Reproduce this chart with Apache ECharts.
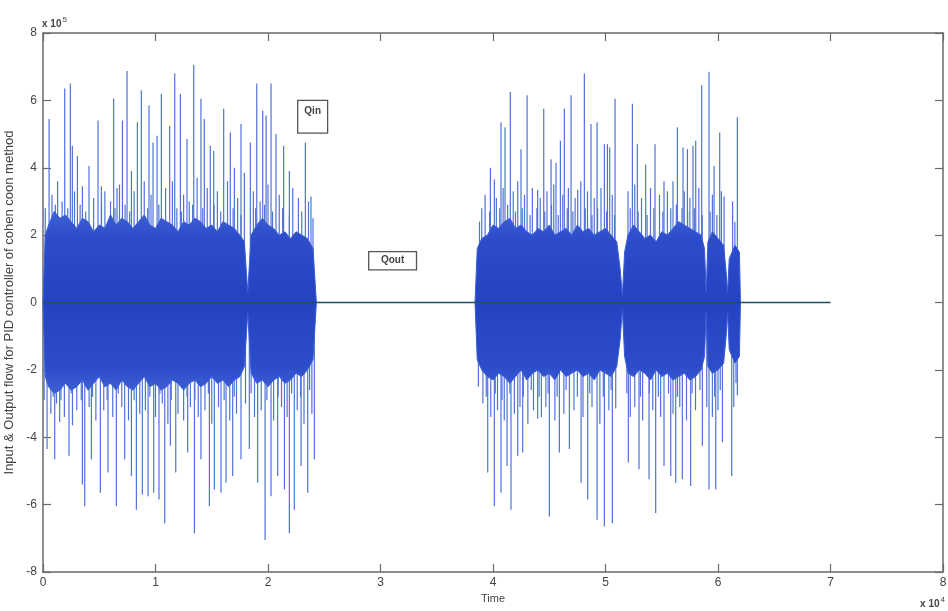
<!DOCTYPE html>
<html>
<head>
<meta charset="utf-8">
<script src="https://cdn.jsdelivr.net/npm/echarts@6/dist/echarts.min.js"></script>
<style>html,body{margin:0;padding:0;background:#fff}#c{width:948px;height:611px}</style>
</head>
<body>
<div id="c"></div>
<script>
// x in units of 1e4 (Time), y in units of 1e5 (flow)
const xTicks = [0,1,2,3,4,5,6,7,8];
const yTicks = [-8,-6,-4,-2,0,2,4,6,8];

// Tall Qin excursions, burst 1 [time, flow]
const burst1Peaks = [
 [0.054,5.45],[0.193,6.35],[0.243,6.5],[0.261,4.65],[0.306,4.35],[0.350,3.45],[0.409,4.05],[0.489,5.4],[0.519,3.45],
 [0.628,6.05],[0.658,3.4],[0.706,5.4],[0.747,6.87],[0.786,3.9],[0.839,5.35],[0.874,6.3],[0.942,5.85],[0.978,4.75],
 [1.014,4.95],[1.052,6.2],[1.126,5.25],[1.171,6.8],[1.221,6.2],[1.280,4.85],[1.340,7.05],[1.404,6.05],[1.434,5.45],
 [1.487,4.65],[1.517,4.5],[1.606,5.75],[1.665,5.05],[1.701,4.0],[1.760,5.3],[1.790,3.85],[1.843,4.75],[1.900,6.5],
 [1.953,5.7],[1.983,5.55],[2.027,6.5],[2.071,5.0],[2.139,4.65],[2.190,3.9],[2.332,4.75],[2.382,3.15],
 [0.036,-4.35],[0.104,-4.65],[0.148,-3.55],[0.231,-4.55],[0.262,-3.65],[0.350,-5.4],[0.371,-6.05],[0.430,-4.65],
 [0.510,-5.65],[0.578,-5.05],[0.652,-6.05],[0.726,-4.65],[0.786,-5.15],[0.830,-6.15],[0.883,-5.7],[0.934,-5.75],
 [0.984,-5.65],[1.031,-5.85],[1.082,-6.55],[1.132,-4.25],[1.180,-5.05],[1.286,-4.45],[1.346,-6.85],[1.404,-4.65],
 [1.479,-6.05],[1.523,-5.55],[1.582,-5.65],[1.627,-5.35],[1.686,-5.15],[1.760,-4.65],[1.834,-4.35],[1.908,-5.35],
 [1.974,-7.05],[2.027,-5.75],[2.086,-5.15],[2.146,-5.55],[2.190,-6.85],[2.234,-6.15],[2.294,-4.85],[2.353,-5.65],[2.412,-4.65]
];
// Tall Qin excursions, burst 2
const burst2Peaks = [
 [3.977,4.0],[4.012,3.65],[4.071,5.35],[4.107,5.2],[4.154,6.25],[4.249,4.55],[4.303,6.15],[4.397,3.35],[4.451,5.75],
 [4.516,4.25],[4.560,4.15],[4.599,4.8],[4.634,5.75],[4.694,6.15],[4.753,3.35],[4.812,6.8],[4.871,5.3],[4.925,5.35],
 [4.990,4.7],[5.017,4.7],[5.037,4.6],[5.085,6.05],[5.239,5.9],[5.283,4.7],[5.357,4.1],[5.440,4.7],[5.520,3.6],
 [5.639,5.2],[5.689,4.6],[5.728,4.55],[5.778,4.65],[5.802,4.8],[5.855,6.45],[5.920,6.85],[5.965,4.05],[6.015,5.05],
 [6.054,3.15],[6.172,5.5],
 [3.953,-5.05],[4.012,-6.05],[4.071,-5.65],[4.125,-4.85],[4.160,-6.15],[4.220,-4.55],[4.264,-4.45],[4.397,-3.45],
 [4.501,-6.35],[4.590,-4.45],[4.679,-4.35],[4.783,-5.35],[4.842,-5.85],[4.925,-6.45],[4.990,-6.65],[5.061,-6.55],
 [5.091,-3.15],[5.203,-4.75],[5.298,-4.95],[5.387,-5.25],[5.446,-6.25],[5.520,-4.85],[5.580,-5.15],[5.624,-5.35],
 [5.683,-5.25],[5.757,-5.45],[5.861,-4.25],[5.920,-5.55],[5.980,-5.55],[6.039,-4.15],[6.122,-5.15],[6.172,-2.75]
];
// Medium excursions just outside the dense core
const burst1Mid = [
 [0.08,3.2],[0.13,3.6],[0.17,3.0],[0.28,3.3],[0.45,3.1],[0.55,3.3],[0.60,3.0],[0.68,3.5],[0.81,3.3],[0.90,3.6],
 [0.96,3.2],[1.09,3.4],[1.15,3.6],[1.25,3.2],[1.30,3.0],[1.37,3.7],[1.46,3.4],[1.55,3.3],[1.64,3.6],[1.73,3.1],
 [1.87,3.3],[1.93,3.0],[2.00,3.5],[2.10,3.2],[2.22,3.4],[2.27,3.1],[2.36,3.0],
 [0.02,2.8],[0.11,2.9],[0.22,2.8],[0.33,2.9],[0.38,2.7],[0.52,2.9],[0.64,2.8],[0.73,2.9],[0.77,2.7],[0.93,2.8],
 [1.03,2.9],[1.19,2.8],[1.23,2.7],[1.33,2.9],[1.42,2.8],[1.52,2.9],[1.58,2.7],[1.69,2.8],[1.76,2.6],[1.89,2.8],
 [1.97,2.9],[2.04,2.7],[2.13,2.8],[2.19,2.6],[2.30,2.7],[2.40,2.5],
 [0.07,-3.3],[0.12,-3.0],[0.19,-3.4],[0.30,-3.2],[0.41,-3.1],[0.47,-3.5],[0.54,-3.2],[0.62,-3.4],[0.70,-3.1],
 [0.76,-3.5],[0.86,-3.3],[0.91,-3.2],[1.00,-3.4],[1.06,-3.0],[1.11,-3.6],[1.20,-3.3],[1.25,-3.5],[1.31,-3.1],
 [1.38,-3.4],[1.44,-3.2],[1.50,-3.6],[1.56,-3.1],[1.66,-3.5],[1.72,-3.3],[1.80,-3.0],[1.88,-3.4],[1.94,-3.2],
 [2.05,-3.5],[2.12,-3.1],[2.17,-3.4],[2.26,-3.2],[2.32,-3.6],[2.39,-3.3],
 [0.01,-2.9],[0.09,-2.8],[0.16,-2.9],[0.25,-2.7],[0.34,-2.9],[0.44,-2.8],[0.57,-2.9],[0.67,-2.7],[0.81,-2.9],
 [0.95,-2.8],[1.04,-2.7],[1.14,-2.9],[1.28,-2.8],[1.35,-2.9],[1.47,-2.7],[1.61,-2.9],[1.70,-2.8],[1.85,-2.7],
 [1.99,-2.9],[2.09,-2.8],[2.21,-2.7],[2.29,-2.8],[2.37,-2.6]
];
const burst2Mid = [
 [3.90,2.8],[3.93,3.2],[4.03,3.1],[4.09,3.4],[4.18,3.3],[4.22,3.6],[4.28,3.2],[4.35,3.4],[4.42,3.1],[4.48,3.3],
 [4.54,3.5],[4.62,3.2],[4.67,3.4],[4.73,3.1],[4.78,3.6],[4.84,3.3],[4.90,3.1],[4.96,3.4],[5.06,3.2],[5.20,3.3],
 [5.26,3.5],[5.32,3.1],[5.40,3.4],[5.48,3.2],[5.55,3.3],[5.60,3.6],[5.70,3.3],[5.75,3.1],[5.83,3.4],[5.95,3.2],
 [6.03,3.3],[6.13,3.0],
 [3.88,2.4],[3.97,2.7],[4.06,2.8],[4.13,2.9],[4.20,2.7],[4.26,2.8],[4.33,2.6],[4.39,2.8],[4.46,2.7],[4.52,2.9],
 [4.58,2.6],[4.66,2.8],[4.71,2.7],[4.82,2.8],[4.88,2.6],[4.93,2.8],[5.01,2.7],[5.08,2.6],[5.22,2.8],[5.29,2.7],
 [5.37,2.6],[5.43,2.8],[5.51,2.7],[5.58,2.8],[5.63,2.9],[5.68,2.8],[5.73,2.7],[5.79,2.8],[5.86,2.6],[5.93,2.7],
 [5.99,2.6],[6.15,2.4],
 [3.91,-3.0],[3.98,-3.4],[4.04,-3.2],[4.10,-3.5],[4.19,-3.3],[4.24,-3.1],[4.31,-3.6],[4.36,-3.2],[4.43,-3.4],
 [4.47,-3.1],[4.55,-3.5],[4.63,-3.3],[4.72,-3.2],[4.80,-3.4],[4.88,-3.1],[4.95,-3.6],[5.03,-3.2],[5.22,-3.4],
 [5.26,-3.1],[5.33,-3.5],[5.42,-3.2],[5.49,-3.4],[5.60,-3.3],[5.66,-3.1],[5.72,-3.5],[5.80,-3.2],[5.90,-3.1],
 [5.95,-3.4],[6.00,-3.2],[6.14,-3.1],
 [3.87,-2.5],[3.94,-2.8],[4.02,-2.7],[4.08,-2.9],[4.15,-2.7],[4.27,-2.8],[4.34,-2.6],[4.41,-2.8],[4.49,-2.7],
 [4.57,-2.8],[4.65,-2.6],[4.75,-2.8],[4.86,-2.7],[4.98,-2.8],[5.05,-2.6],[5.19,-2.7],[5.31,-2.8],[5.39,-2.7],
 [5.47,-2.8],[5.56,-2.7],[5.64,-2.8],[5.77,-2.7],[5.84,-2.6],[5.97,-2.8],[6.02,-2.6],[6.16,-2.4]
];
// Dense core envelope of Qin
const coreX  = [0,0.02,0.05,0.10,0.15,0.20,0.25,0.30,0.35,0.40,0.45,0.50,0.55,0.60,0.65,0.70,0.75,0.80,0.85,0.90,0.95,1.00,1.05,1.10,1.15,1.20,1.25,1.30,1.35,1.40,1.45,1.50,1.55,1.60,1.65,1.70,1.75,1.79,1.82,1.85,1.90,1.95,2.00,2.05,2.10,2.15,2.20,2.25,2.30,2.35,2.40,2.43,
                3.84,3.86,3.90,3.95,4.00,4.05,4.10,4.15,4.20,4.25,4.30,4.35,4.40,4.45,4.50,4.55,4.60,4.65,4.70,4.75,4.80,4.85,4.90,4.95,5.00,5.05,5.10,5.13,5.15,5.17,5.20,5.25,5.30,5.35,5.40,5.45,5.50,5.55,5.60,5.65,5.70,5.75,5.80,5.85,5.88,5.895,5.91,5.95,6.00,6.05,6.075,6.085,6.10,6.15,6.19,6.20];
const coreUp = [0,2.0,2.3,2.7,2.5,2.6,2.4,2.2,2.5,2.4,2.1,2.3,2.2,2.6,2.3,2.5,2.4,2.2,2.4,2.6,2.3,2.2,2.5,2.4,2.3,2.1,2.4,2.3,2.5,2.4,2.2,2.3,2.1,2.4,2.3,2.2,2.0,1.8,0.3,2.0,2.3,2.5,2.3,2.2,2.0,2.1,1.9,2.1,2.0,1.9,1.6,0,
                0,1.6,1.9,2.0,2.3,2.2,2.4,2.5,2.2,2.3,2.1,2.0,2.2,2.1,2.3,2.0,2.1,2.2,2.0,2.3,2.1,2.2,2.0,2.1,2.2,2.0,1.8,1.0,0.2,1.5,2.0,2.3,2.1,1.9,2.0,1.8,2.1,2.0,2.2,2.4,2.3,2.2,2.1,2.0,1.6,0.3,1.8,2.1,1.9,1.7,0.8,0.3,1.3,1.7,1.5,0];
const coreLo = [0,-2.2,-2.5,-2.7,-2.6,-2.4,-2.6,-2.5,-2.3,-2.6,-2.4,-2.2,-2.5,-2.4,-2.6,-2.3,-2.5,-2.6,-2.4,-2.2,-2.5,-2.4,-2.6,-2.5,-2.3,-2.4,-2.6,-2.4,-2.3,-2.5,-2.4,-2.2,-2.4,-2.3,-2.5,-2.3,-2.2,-1.9,-0.3,-2.1,-2.4,-2.3,-2.5,-2.3,-2.2,-2.4,-2.3,-2.1,-2.2,-2.0,-1.7,0,
                0,-1.7,-2.0,-2.2,-2.3,-2.1,-2.2,-2.4,-2.2,-2.0,-2.3,-2.1,-2.0,-2.2,-2.1,-2.3,-2.0,-2.2,-2.1,-2.0,-2.2,-2.1,-2.3,-2.0,-2.1,-2.2,-1.9,-1.1,-0.2,-1.6,-2.1,-2.2,-2.0,-2.1,-2.3,-2.0,-2.2,-2.1,-2.3,-2.2,-2.1,-2.3,-2.2,-2.0,-1.6,-0.3,-1.9,-2.1,-2.0,-1.8,-0.9,-0.3,-1.4,-1.8,-1.6,0];
// Qout
const qoutX = [0,7.0];
const qoutY = [0,0];

const annotations = [
  {text:'Qin',  x0:2.264, x1:2.53, y0:6.0, y1:5.03, ty:5.67},
  {text:'Qout', x0:2.895, x1:3.32, y0:1.51, y1:0.97, ty:1.24}
];

const chart = echarts.init(document.getElementById('c'), null, {renderer:'canvas'});
const font = 'Arial, "Liberation Sans", Helvetica, sans-serif';
const axisCol = '#6a6a6a';
const labCol = '#444';
const spikeColor = '#5072d8';

function axisBase(extra){
  return Object.assign({
    type:'value',
    axisLine:{show:true,onZero:false,lineStyle:{color:axisCol,width:1.5}},
    axisTick:{show:true,inside:true,length:8,lineStyle:{color:axisCol,width:1.2}},
    splitLine:{show:false}
  }, extra);
}

const spikes = burst1Peaks.concat(burst2Peaks, burst1Mid, burst2Mid);
const upGrad = new echarts.graphic.LinearGradient(0,0,0,1,[
  {offset:0,color:'#3e60d4'},{offset:0.3,color:'#2c4ccb'},{offset:1,color:'#2343c3'}]);
const loGrad = new echarts.graphic.LinearGradient(0,0,0,1,[
  {offset:0,color:'#2343c3'},{offset:0.7,color:'#2c4ccb'},{offset:1,color:'#3e60d4'}]);

chart.setOption({
  animation:false,
  backgroundColor:'#fff',
  grid:{left:43,right:5,top:33,bottom:39,containLabel:false,outerBoundsMode:'none'},
  xAxis:[
    axisBase({min:xTicks[0],max:xTicks[xTicks.length-1],interval:1,position:'bottom',
      axisLabel:{color:labCol,fontSize:12,fontFamily:font,margin:5},
      name:'Time',nameLocation:'middle',nameGap:21,nameTextStyle:{color:labCol,fontSize:11,fontFamily:font}}),
    axisBase({min:xTicks[0],max:xTicks[xTicks.length-1],interval:1,position:'top',axisLabel:{show:false}})
  ],
  yAxis:[
    axisBase({min:yTicks[0],max:yTicks[yTicks.length-1],interval:2,position:'left',
      axisLabel:{color:labCol,fontSize:12,fontFamily:font,margin:6},
      name:'Input & Output flow for PID controller of cohen coon method',nameLocation:'middle',nameGap:25,
      nameTextStyle:{color:labCol,fontSize:13,fontFamily:font}}),
    axisBase({min:yTicks[0],max:yTicks[yTicks.length-1],interval:2,position:'right',axisLabel:{show:false}})
  ],
  series:[
    {type:'bar',name:'Qin spikes',xAxisIndex:0,yAxisIndex:0,barWidth:1.2,data:spikes,
      itemStyle:{color:spikeColor},z:2,silent:true},
    {type:'line',name:'Qin core +',data:coreX.map((x,i)=>[x,coreUp[i]]),showSymbol:false,
      lineStyle:{color:'#3a5cd3',width:1},areaStyle:{color:upGrad,opacity:1},z:3,silent:true},
    {type:'line',name:'Qin core -',data:coreX.map((x,i)=>[x,coreLo[i]]),showSymbol:false,
      lineStyle:{color:'#3a5cd3',width:1},areaStyle:{color:loGrad,opacity:1},z:3,silent:true},
    {type:'line',name:'Qout',data:qoutX.map((x,i)=>[x,qoutY[i]]),showSymbol:false,
      lineStyle:{color:'#1f4f62',width:1.6},z:4,silent:true}
  ]
});

const g = [];
annotations.forEach(a=>{
  const p0 = chart.convertToPixel({gridIndex:0},[a.x0,a.y0]);
  const p1 = chart.convertToPixel({gridIndex:0},[a.x1,a.y1]);
  const pt = chart.convertToPixel({gridIndex:0},[(a.x0+a.x1)/2,a.ty]);
  g.push({type:'rect',shape:{x:p0[0],y:p0[1],width:p1[0]-p0[0],height:p1[1]-p0[1]},
    style:{fill:'#fff',stroke:'#555',lineWidth:1.3},z:10});
  g.push({type:'text',x:pt[0],y:pt[1],style:{text:a.text,fill:'#444',font:'bold 10px '+font,align:'center',verticalAlign:'middle'},z:11});
});
const tl = chart.convertToPixel({gridIndex:0},[0,8]);
const br = chart.convertToPixel({gridIndex:0},[8,-8]);
g.push({type:'text',x:tl[0]-1,y:tl[1]-9,style:{text:'x 10{s|5}',rich:{s:{fontSize:8,verticalAlign:'top',padding:[0,0,8,1],fill:'#444'}},fill:'#444',font:'bold 10px '+font,verticalAlign:'middle',align:'left'},z:11});
g.push({type:'text',x:br[0]+2,y:br[1]+32,style:{text:'x 10{s|4}',rich:{s:{fontSize:8,verticalAlign:'top',padding:[0,0,8,1],fill:'#444'}},fill:'#444',font:'bold 10px '+font,verticalAlign:'middle',align:'right'},z:11});
chart.setOption({graphic:g});
</script>
</body>
</html>
